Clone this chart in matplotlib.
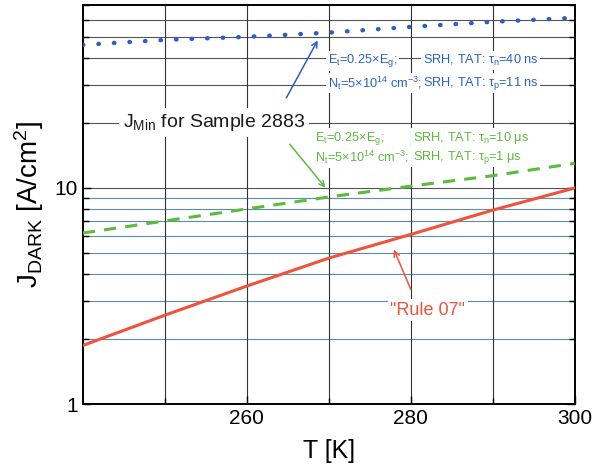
import numpy as np
import matplotlib
matplotlib.use("Agg")
import matplotlib.pyplot as plt
from matplotlib.ticker import LogLocator, NullFormatter, FixedLocator

plt.rcParams['font.family'] = ['Liberation Sans', 'DejaVu Sans']
plt.rcParams['mathtext.fontset'] = 'custom'
plt.rcParams['mathtext.rm'] = 'Liberation Sans'
plt.rcParams['mathtext.it'] = 'Liberation Sans'

# data
T = [240, 250, 260, 270, 280, 290, 300]
j_min = [45.9, 48.4, 50.0, 52.3, 55.6, 58.7, 61.2]      # blue dotted
j_tat = [6.19, 7.04, 8.0, 9.09, 10.2, 11.4, 13.0]       # green dashed
j_rule07 = [1.87, 2.58, 3.52, 4.74, 6.1, 7.9, 10.0]     # red solid

blue = '#2b5fc4'
green = '#5cba3c'
red = '#f0523a'

fig = plt.figure(figsize=(5.92, 4.75), dpi=100)
ax = fig.add_axes([0.140, 0.149, 0.831, 0.840])

ax.set_yscale('log')
ax.set_xlim(240, 300)
ax.set_ylim(1, 70)

# grid lines
for v in range(2, 10):
    ax.axhline(v, color='#5b8ea6', lw=0.8, zorder=0)
for v in [10, 20, 30, 40, 50, 60]:
    ax.axhline(v, color='#555555', lw=0.8, zorder=0)
for v in [250, 260, 270, 280, 290]:
    ax.axvline(v, color='#333333', lw=0.8, zorder=0)

ax.plot(T, j_min, ls=(0, (0.1, 3.4)), lw=3.2, color=blue, dash_capstyle='round', zorder=3)
ax.plot(T, j_tat, ls=(0, (4, 3)), lw=2.2, color=green, zorder=3)
ax.plot(T, j_rule07, ls='-', lw=2.2, color=red, zorder=3)

ax.xaxis.set_major_locator(FixedLocator([260, 280, 300]))
ax.xaxis.set_minor_locator(FixedLocator([250, 270, 290]))
ax.yaxis.set_major_locator(FixedLocator([1, 10]))
ax.yaxis.set_minor_locator(LogLocator(base=10, subs=np.arange(2, 10)))
ax.yaxis.set_minor_formatter(NullFormatter())
ax.set_yticklabels(['1', '10'])
ax.tick_params(which='both', direction='in', right=True, top=False, labelsize=15, width=1)
ax.tick_params(which='major', length=6)
ax.tick_params(which='minor', length=4)
for s in ax.spines.values():
    s.set_linewidth(1.4)

ax.set_xlabel('T [K]', fontsize=18, labelpad=8)
ax.set_ylabel(r'J$_{\mathrm{DARK}}$ [A/cm$^2$]', fontsize=20, labelpad=6)

fs = 9.2
box = dict(facecolor='white', edgecolor='none', pad=1.2)
notes = [
    (0.498, 0.861, r'E$_{\mathrm{t}}$=0.25$\times$E$_{\mathrm{g}}$;', blue),
    (0.691, 0.861, r'SRH, TAT: $\tau_{\mathrm{n}}$=40 ns', blue),
    (0.498, 0.805, r'N$_{\mathrm{t}}$=5$\times$10$^{14}$ cm$^{-3}$;', blue),
    (0.691, 0.805, r'SRH, TAT: $\tau_{\mathrm{p}}$=11 ns', blue),
    (0.472, 0.667, r'E$_{\mathrm{t}}$=0.25$\times$E$_{\mathrm{g}}$;', green),
    (0.671, 0.667, r'SRH, TAT: $\tau_{\mathrm{n}}$=10 $\mu$s', green),
    (0.472, 0.619, r'N$_{\mathrm{t}}$=5$\times$10$^{14}$ cm$^{-3}$;', green),
    (0.671, 0.619, r'SRH, TAT: $\tau_{\mathrm{p}}$=1 $\mu$s', green),
]
for x, y, s, c in notes:
    ax.text(x, y, s, transform=ax.transAxes, color=c, fontsize=fs, va='center', bbox=box, zorder=4)

ax.text(0.081, 0.707, r'J$_{\mathrm{Min}}$ for Sample 2883', transform=ax.transAxes,
        color='#1a1a1a', fontsize=14, va='center', bbox=dict(facecolor='white', edgecolor='none', pad=3), zorder=4)
ax.text(0.701, 0.236, '"Rule 07"', transform=ax.transAxes, color=red, fontsize=13,
        ha='center', va='center', bbox=dict(facecolor='white', edgecolor='none', pad=2), zorder=4)

ax.annotate('', xy=(268.8, 49.4), xytext=(0.411, 0.762), textcoords='axes fraction',
            arrowprops=dict(arrowstyle='->', color=blue, lw=1.1), zorder=5)
ax.annotate('', xy=(269.8, 9.8), xytext=(0.417, 0.657), textcoords='axes fraction',
            arrowprops=dict(arrowstyle='->', color=green, lw=1.1), zorder=5)
ax.annotate('', xy=(277.8, 5.33), xytext=(0.669, 0.281), textcoords='axes fraction',
            arrowprops=dict(arrowstyle='->', color=red, lw=1.1), zorder=5)

fig.savefig('out.png', dpi=100)
